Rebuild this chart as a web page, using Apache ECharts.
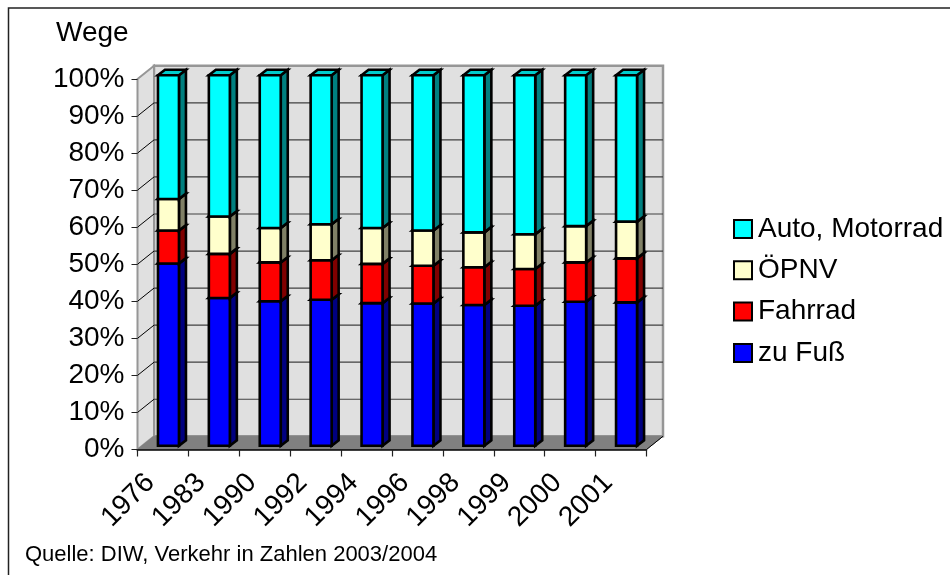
<!DOCTYPE html>
<html><head><meta charset="utf-8">
<style>html,body{margin:0;padding:0;background:#fff}#c{width:950px;height:575px}</style>
<script src="https://cdn.jsdelivr.net/npm/echarts@6/dist/echarts.min.js"></script>
</head><body><div id="c"></div>
<script>
const categories = ['1976','1983','1990','1992','1994','1996','1998','1999','2000','2001'];
const zuFuss   = [49.2,39.9,39.0,39.4,38.5,38.4,38.0,37.8,38.9,38.7];
const fahrrad  = [8.9,11.9,10.5,10.7,10.6,10.2,10.2,9.9,10.6,11.9];
const oepnv    = [8.5,10.1,9.3,9.7,9.7,9.5,9.4,9.4,9.8,9.9];
const auto     = [33.4,38.1,41.2,40.2,41.2,41.9,42.4,42.9,40.7,39.5];
const gridTicks = [10,20,30,40,50,60,70,80,90,100];

const BACK = {x:16.5, y:-13.2};
const BARS = {off:5.5, offY:-3.7, w:21, dx:7, dy:-5.5};

function wallsItem(params, api){
  const r = params.coordSys, L=r.x, R=r.x+r.width, T=r.y, B=r.y+r.height, dx=BACK.x, dy=BACK.y;
  return {type:'group', children:[
    {type:'polygon', shape:{points:[[L+dx,T+dy],[R+dx,T+dy],[R+dx,B+dy],[L+dx,B+dy]]}, style:{fill:'#e0e0e0',stroke:'#969696',lineWidth:2.5}},
    {type:'polygon', shape:{points:[[L,T],[L+dx,T+dy],[L+dx,B+dy],[L,B]]}, style:{fill:'#e0e0e0',stroke:'#969696',lineWidth:2}},
    {type:'polygon', shape:{points:[[L,B],[R,B],[R+dx,B+dy],[L+dx,B+dy]]}, style:{fill:'#808080',stroke:'#808080',lineWidth:1}},
    {type:'line', shape:{x1:R,y1:B,x2:R+dx,y2:B+dy}, style:{stroke:'#000',lineWidth:1}}
  ]};
}
function gridItem(params, api){
  const r = params.coordSys, v = api.value(0);
  const y = api.coord([0,v])[1];
  const kids = [];
  if (v<100) kids.push({type:'line', shape:{x1:r.x+BACK.x,y1:y+BACK.y,x2:r.x+r.width+BACK.x,y2:y+BACK.y}, style:{stroke:'#404040',lineWidth:1.2}});
  if (v<100) kids.push({type:'line', shape:{x1:r.x,y1:y,x2:r.x+BACK.x,y2:y+BACK.y}, style:{stroke:'#000',lineWidth:1}});
  return {type:'group', children:kids};
}
function barItem(colors){
  return function(params, api){
    const i=api.value(0), lo=api.value(1), hi=api.value(2);
    const c0=api.coord([i,lo]), c1=api.coord([i,hi]);
    const x0=c0[0]+BARS.off-BARS.w/2, x1=x0+BARS.w, yb=c0[1]+BARS.offY, yt=c1[1]+BARS.offY;
    const dx=BARS.dx, dy=BARS.dy, s={stroke:'#000',lineWidth:2.6,lineJoin:'miter'};
    return {type:'group', children:[
      {type:'polygon', shape:{points:[[x1,yb],[x1+dx,yb+dy],[x1+dx,yt+dy],[x1,yt]]}, style:Object.assign({fill:colors.side},s)},
      {type:'polygon', shape:{points:[[x0,yt],[x1,yt],[x1+dx,yt+dy],[x0+dx,yt+dy]]}, style:Object.assign({fill:colors.top},s)},
      {type:'rect', shape:{x:x0,y:yt,width:BARS.w,height:yb-yt}, style:Object.assign({fill:colors.face},s)}
    ]};
  };
}
let base = categories.map(()=>0);
function stackSeries(name, values, colors, z){
  const data = values.map((v,i)=>{const d=[i,base[i],base[i]+v]; base[i]+=v; return d;});
  return {type:'custom', name, z, coordinateSystem:'cartesian2d', clip:false, silent:true,
    itemStyle:{color:colors.face}, encode:{x:0,y:2}, data, renderItem:barItem(colors)};
}
const chart = echarts.init(document.getElementById('c'), null, {renderer:'canvas'});
chart.setOption({
  animation:false,
  backgroundColor:'#fff',
  textStyle:{fontFamily:'Liberation Sans'},
  graphic:[{type:'rect', z:-10, shape:{x:8.5,y:8,width:1000,height:700}, style:{fill:'none',stroke:'#222',lineWidth:1.5}}],
  title:[
    {text:'Wege', left:56, top:19, textStyle:{fontSize:28,fontWeight:'normal',color:'#000',fontFamily:'Liberation Sans'}, padding:0},
    {text:'Quelle: DIW, Verkehr in Zahlen 2003/2004', left:25, top:544, textStyle:{fontSize:22,fontWeight:'normal',color:'#000',fontFamily:'Liberation Sans'}, padding:0}
  ],
  grid:{left:137.5, right:303.5, top:79, bottom:125.5},
  legend:{orient:'vertical', left:733, top:215, itemWidth:18, itemHeight:18, itemGap:13.3, padding:0,
    icon:'rect', selectedMode:false,
    data:['Auto, Motorrad','ÖPNV','Fahrrad','zu Fuß'],
    itemStyle:{borderColor:'#000',borderWidth:2},
    textStyle:{fontSize:28,color:'#000',fontFamily:'Liberation Sans',padding:[0,0,0,1]}},
  xAxis:{type:'category', data:categories, z:3,
    axisLine:{lineStyle:{color:'#000',width:1.5}},
    axisTick:{show:true,length:7,lineStyle:{color:'#222',width:1.2}},
    axisLabel:{rotate:45, interval:0, fontSize:28, color:'#000', margin:16, padding:[0,18,0,0], fontFamily:'Liberation Sans'}},
  yAxis:{type:'value', min:0, max:100, interval:10, z:3,
    axisLine:{show:false},
    axisTick:{show:true,length:6,lineStyle:{color:'#222',width:1}},
    splitLine:{show:false},
    axisLabel:{formatter:'{value}%', fontSize:28, color:'#000', margin:13, fontFamily:'Liberation Sans'}},
  series:[
    {type:'custom', z:0, silent:true, clip:false, coordinateSystem:'cartesian2d', data:[[0,0]], renderItem:wallsItem},
    {type:'custom', z:1, silent:true, clip:false, coordinateSystem:'cartesian2d', data:gridTicks.map(v=>[v]), encode:{y:0}, renderItem:gridItem},
    stackSeries('zu Fuß', zuFuss, {face:'#0000ff',side:'#000080',top:'#0000cc'},4),
    stackSeries('Fahrrad', fahrrad, {face:'#ff0000',side:'#800000',top:'#cc0000'},5),
    stackSeries('ÖPNV', oepnv, {face:'#ffffcc',side:'#808066',top:'#ccccaa'},6),
    stackSeries('Auto, Motorrad', auto, {face:'#00ffff',side:'#008080',top:'#00cccc'},7)
  ]
});
</script></body></html>
